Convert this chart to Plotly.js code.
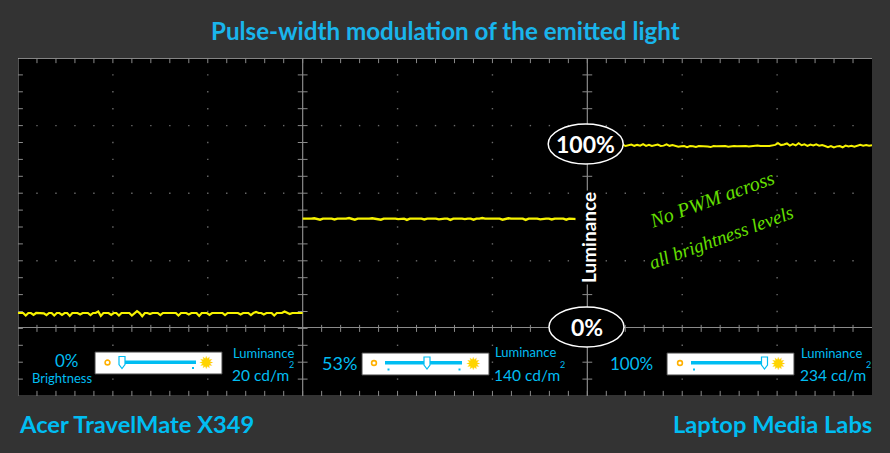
<!DOCTYPE html>
<html><head><meta charset="utf-8">
<script src="https://cdn.plot.ly/plotly-3.0.1.min.js"></script>
<style>html,body{margin:0;padding:0;background:#333}</style></head>
<body><div id="c" style="width:890px;height:453px"></div>
<script>
// Luminance (% of maximum)
const lowBrightness = [8,7.8,8,6.6,8,8,7,8,8,8,7.8,6.8,8,8,6.6,8,8,7,8,8,6.4,8,8.2,8,7.2,8,8,8,6.8,8,8,8.8,6.4,8,8,8,7,8,8,6.6,8,8,8.2,8,6.6,8,9,8,6.2,8,8,7.4,8,8,8,6.8,8,8,8,7.6,8,8,6.6,8,8,8,7.2,8,8,8,6.4,8,8,8,7,8,8,8,7.6,8,6.8,8,8,8,8.4,8,7.2,8,8,8,6.8,8,8.6,8,8,7.2,8,8,8,6.6,8,8,8,8.8,8,7.4,8,8,8,8,8];
const midBrightness = [60,60,59.6,60,60.2,60,59.4,60,60,60.2,60,59.5,60,60,59.8,60,60.3,60,59.4,60,60,60,59.6,60,60.2,60,60,59.4,60,60,60,60.3,60,59.7,60,60,59.3,60,60,60.2,60,60,59.5,60,60,60.2,60,59.6,60,60,60,59.3,60,60.2,60,60,59.7,60,60,59.4,60,60,60.3,60,60,59.6,60,60,60,59.4,60,60.2,60,60,59.7,60,60,59.3,60,60,60.2,60,59.6,60,60,60,59.5,60,60.2,60,60,59.4,60,60,60,59.7];
const maxBrightness = [100.4,100.6,100,100.7,100.2,100.9,100.1,100.5,100.8,100,100.6,100.2,100.9,100,100.5,100.8,100.1,100.6,100.2,101,100.1,100.7,100,100.5,100.8,100,100.2,100.9,100.1,100.5,100,99.6,99.9,100,99.4,100,99.8,99.5,100,100,100,99.7,99.4,100,99.8,100,100,100,99.6,100,100,99.8,100,100,100,99.7,100,100,100.3,100,99.8,100,100,100.3,100.6,101.6,100.5,100.8,101.4,100.2,101,100.3,101.5,100.4,100.9,100.1,100.8,100.3,100.9,100.2,100.5,100,99.4,100,99.2,99.8,100,99.3,100.2,99.8,100.1,99.6,100.3,100.7,100.2,100.5,100.1,100.4];
const panelNames = ['0% brightness','53% brightness','100% brightness'];
const brightnessLabels = ['0%','53%','100%'];
const luminanceLabels = ['20 cd/m','140 cd/m','234 cd/m'];
const titleText = 'Pulse-width modulation of the emitted light';
const footLeft = 'Acer TravelMate X349';
const footRight = 'Laptop Media Labs';

const W=890,H=453,L=18,R=872,T=58,B=396,ZERO=327.5,FULL=146;
const yMin=-(B-ZERO)/(ZERO-FULL)*100, yMax=(ZERO-T)/(ZERO-FULL)*100;
const yStep=(yMax-yMin)/20;          // one minor division, in %
const cyan='#00bdf2', grey='#8a8a8a';

function line(x,y,name,w,c){return {type:'scatter',mode:'lines',x,y,name,hoverinfo:'skip',line:{color:c,width:w},showlegend:false};}
function pts(x,y,sym,size,c,lw){return {type:'scatter',mode:'markers',x,y,hoverinfo:'skip',showlegend:false,
  marker:{symbol:sym,size,color:c,line:{color:c,width:lw||0}}};}

const traces=[];
// graticule
const dx=[],dy=[],tx=[],ty=[],hx=[],hy=[];
for(let c=0;c<=45;c++)for(let r=0;r<=20;r++){
  const y=yMax-r*yStep;
  const isMajC=c%5===0,isPanel=c%15===0,isMajR=r%4===0,isZero=r===16,isEdge=r===0||r===20;
  if(isPanel&&!isEdge){ if(c<45){hx.push(c);hy.push(y);} continue; }
  if(isZero||isEdge){ if(c>0&&c<45){tx.push(c);ty.push(isEdge?y+(r===0?-0.9:0.9):y);} continue; }
  if((isMajC&&!isPanel)||isMajR){ if(c>0&&c<45){dx.push(c);dy.push(y);} }
}
traces.push(pts(dx,dy,'square',1.4,'#6a6a6a'));
[0,15,30].forEach(p=>traces.push(line([p,p],[yMin,yMax],'divider',1.2,grey)));
traces.push(line([0,45],[0,0],'zero',1.2,grey));
traces.push(line([0,45],[yMax,yMax],'top',1.4,'#b0b0b0'));
traces.push(line([0,45],[yMin,yMin],'bottom',1,'#666'));
traces.push(pts(tx,ty,'line-ns',5,grey,1));
traces.push(pts(hx,hy,'line-ew',7,grey,1));

// luminance traces
const xs=(arr,start,end)=>arr.map((_,i)=>start+(end-start)*i/(arr.length-1));
traces.push(line(xs(lowBrightness,0,15),lowBrightness,panelNames[0],2.2,'#f6f200'));
traces.push(line(xs(midBrightness,15,29.5),midBrightness,panelNames[1],2.4,'#f6f200'));
traces.push(line(xs(maxBrightness,30,45),maxBrightness,panelNames[2],2,'#f6f200'));

// slider widgets (independent pixel axes over the whole page)
const widgets=[
 {x0:95,x1:222,y:352,cx:107.5,b0:120,b1:196,th:122,dots:[193],dotY:368,sun:206.5,my:362.5},
 {x0:362,x1:489,y:353,cx:374,b0:385,b1:462,th:427,dots:[388.5,459.5],dotY:369.5,sun:473,my:363},
 {x0:667,x1:794,y:353,cx:680,b0:691,b1:766,th:764.5,dots:[694],dotY:369.5,sun:778.5,my:363}];
const shapes=[{type:'rect',xref:'paper',yref:'paper',x0:L/W,x1:R/W,y0:1-B/H,y1:1-T/H,fillcolor:'#000',line:{width:0},layer:'below'}];
const px=(o)=>Object.assign({xref:'x2',yref:'y2',layer:'above'},o);
widgets.forEach(w=>{
  shapes.push(px({type:'rect',x0:w.x0,x1:w.x1,y0:w.y,y1:w.y+22,fillcolor:'#fff',line:{color:'#444',width:1}}));
  shapes.push(px({type:'rect',x0:w.b0,x1:w.b1,y0:w.my-2,y1:w.my+1.4,fillcolor:cyan,line:{width:0}}));
  const t=w.th,m=w.my;
  shapes.push(px({type:'path',path:`M${t-3},${m-6} L${t+3},${m-6} L${t+3},${m+2} L${t},${m+6} L${t-3},${m+2} Z`,fillcolor:'#fff',line:{color:cyan,width:1.2}}));
  w.dots.forEach(d=>shapes.push(px({type:'rect',x0:d-1,x1:d+1,y0:w.dotY-1,y1:w.dotY+1,fillcolor:cyan,line:{width:0}})));
  shapes.push(px({type:'circle',x0:w.cx-2.4,x1:w.cx+2.4,y0:w.my-2.4,y1:w.my+2.4,fillcolor:'#fff',line:{color:'#ffb000',width:1.6}}));
});
const ell=(cx,cy,rx,ry)=>px({type:'circle',x0:cx-rx,x1:cx+rx,y0:cy-ry,y1:cy+ry,fillcolor:'#000',line:{color:'#fff',width:1.5}});
shapes.push(ell(585.7,144,37.5,20), ell(586.5,327,37.5,20));
const ann=(text,x,y,size,color,extra)=>Object.assign({text,x,y,xref:'x2',yref:'y2',showarrow:false,
  font:{family:'Lato, "Open Sans", sans-serif',size,color},xanchor:'center',yanchor:'middle'},extra||{});
const script={family:'"Liberation Serif",serif',size:20,color:'#66e000'};
const script2={family:'"Liberation Serif",serif',size:19,color:'#66e000'};
const annotations=[
 ann('<b>'+titleText+'</b>',445,30,24.2,'#19b5ec'),
 ann('<b>'+footLeft+'</b>',17,424,23.7,cyan,{xanchor:'left'}),
 ann('<b>'+footRight+'</b>',874,424,23.7,cyan,{xanchor:'right'}),
 ann(brightnessLabels[0],67,360,17,cyan),
 ann('Brightness',62,378,13,cyan),
 ann(brightnessLabels[1],339,363,18,cyan),
 ann(brightnessLabels[2],631,363,17,cyan),
 ann('Luminance',263,353,13,cyan),
 ann('Luminance',525,352,13,cyan),
 ann('Luminance',831,353,13,cyan),
 ann(luminanceLabels[0],260.5,375,15.5,cyan),
 ann('2',291,364,9,cyan),
 ann(luminanceLabels[1],526.5,375,15.5,cyan),
 ann('2',562,364,9,cyan),
 ann(luminanceLabels[2],833,375,15.5,cyan),
 ann('2',868,364,9,cyan),
 ann('<b>100%</b>',585.7,144,23,'#fff'),
 ann('<b>0%</b>',586.5,327,23,'#fff'),
 ann('<b>Luminance</b>',588,238,19,'#fff',{textangle:-90,bgcolor:'#000'}),
 ann('<i>No PWM across</i>',712,199,20,'#66e000',{textangle:-20,font:script}),
 ann('<i>all brightness levels</i>',721,237,19,'#66e000',{textangle:-20,font:script2}),
 ...widgets.map(w=>ann('✹',w.sun,w.my,18,'#ffd400',{font:{family:'"DejaVu Sans"',size:18,color:'#ffd400'}}))
];

const hidden={showgrid:false,zeroline:false,showticklabels:false,ticks:'',showline:false,fixedrange:true};
Plotly.newPlot('c',traces,{
  width:W,height:H,margin:{l:0,r:0,t:0,b:0},paper_bgcolor:'#333333',plot_bgcolor:'rgba(0,0,0,0)',showlegend:false,
  xaxis:Object.assign({domain:[L/W,R/W],range:[0,45],anchor:'y'},hidden),
  yaxis:Object.assign({domain:[1-B/H,1-T/H],range:[yMin,yMax],anchor:'x'},hidden),
  xaxis2:Object.assign({domain:[0,1],range:[0,W],anchor:'y2'},hidden),
  yaxis2:Object.assign({domain:[0,1],range:[H,0],anchor:'x2'},hidden),
  shapes,annotations
},{displayModeBar:false,staticPlot:true});
</script></body></html>
